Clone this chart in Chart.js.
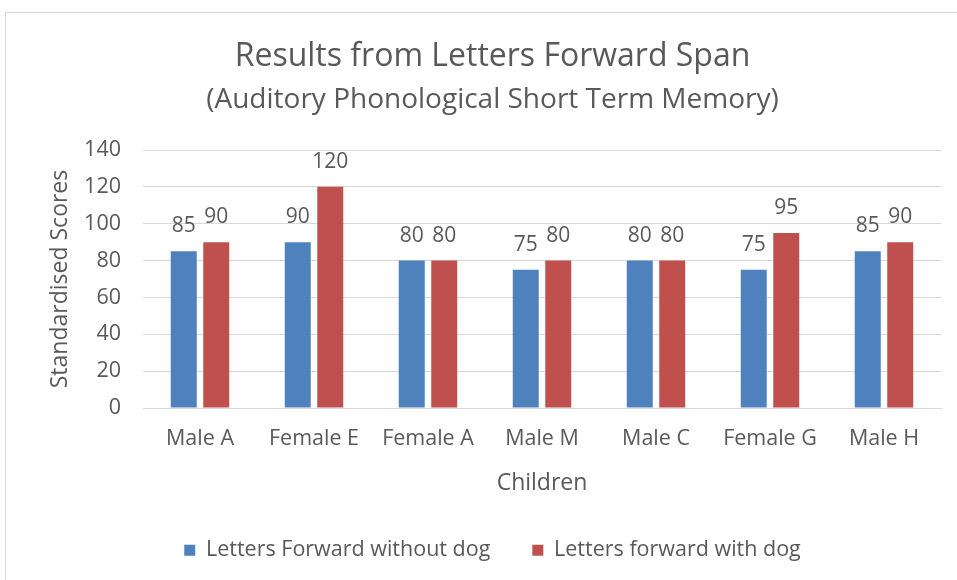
<!DOCTYPE html>
<html>
<head>
<meta charset="utf-8">
<script src="https://cdn.jsdelivr.net/npm/chart.js@4.4.1/dist/chart.umd.min.js"></script>
<style>
  html, body { margin: 0; padding: 0; background: #fff; }
  #wrap { width: 957px; height: 580px; position: relative; }
</style>
</head>
<body>
<div id="wrap"><canvas id="chart" width="957" height="580"></canvas></div>
<script>
// ── data ─────────────────────────────────────────────
const children = ["Male A", "Female E", "Female A", "Male M", "Male C", "Female G", "Male H"];
const withoutDog = [85, 90, 80, 75, 80, 75, 85];
const withDog    = [90, 120, 80, 80, 80, 95, 90];
const yTicks     = [0, 20, 40, 60, 80, 100, 120, 140];

const BLUE = "#4F81BD";
const RED  = "#C0504D";
const TEXT = "#595959";
const FONT = "'Open Sans', sans-serif";

// values drawn above each bar
const valueLabels = {
  id: "valueLabels",
  afterDatasetsDraw(chart) {
    const ctx = chart.ctx;
    ctx.save();
    ctx.font = "21px " + FONT;
    ctx.fillStyle = TEXT;
    ctx.textAlign = "center";
    ctx.textBaseline = "middle";
    chart.data.datasets.forEach((ds, i) => {
      chart.getDatasetMeta(i).data.forEach((bar, j) => {
        ctx.fillText(ds.data[j], bar.x, bar.y - 25);
      });
    });
    ctx.restore();
  }
};

// thin frame round the chart
const frame = {
  id: "frame",
  beforeDraw(chart) {
    const ctx = chart.ctx;
    ctx.save();
    ctx.fillStyle = "#fff";
    ctx.fillRect(0, 0, chart.width, chart.height);
    ctx.strokeStyle = "#d9d9d9";
    ctx.lineWidth = 1;
    ctx.strokeRect(5.5, 12.5, 1200, 1200);
    ctx.restore();
  }
};

new Chart(document.getElementById("chart"), {
  type: "bar",
  data: {
    labels: children,
    datasets: [
      { label: "Letters Forward without dog", data: withoutDog, backgroundColor: BLUE,
        categoryPercentage: 0.57, barPercentage: 0.8 },
      { label: "Letters forward with dog", data: withDog, backgroundColor: RED,
        categoryPercentage: 0.57, barPercentage: 0.8 }
    ]
  },
  options: {
    responsive: false,
    animation: false,
    layout: { padding: { left: 44, right: 16, top: 0, bottom: 9 } },
    plugins: {
      title: {
        display: true,
        text: "Results from Letters Forward Span",
        color: TEXT,
        font: { family: FONT, size: 32, weight: "normal" },
        padding: { top: 38, bottom: 0 }
      },
      subtitle: {
        display: true,
        text: "(Auditory Phonological Short Term Memory)",
        color: TEXT,
        font: { family: FONT, size: 28, weight: "normal" },
        padding: { top: 7, bottom: 33 }
      },
      legend: {
        position: "bottom",
        labels: {
          color: TEXT,
          font: { family: FONT, size: 21.5 },
          boxWidth: 11,
          boxHeight: 11,
          padding: 42
        }
      },
      tooltip: { enabled: false }
    },
    scales: {
      x: {
        grid: { display: false, drawTicks: false },
        border: { color: "#d9d9d9" },
        ticks: { color: TEXT, font: { family: FONT, size: 21.5 }, padding: 18 },
        title: {
          display: true, text: "Children", color: TEXT,
          font: { family: FONT, size: 23 }, padding: { top: 10, bottom: 0 }
        },
        afterFit: (axis) => { axis.height = 89.5; }
      },
      y: {
        min: 0,
        max: 140,
        afterBuildTicks: (axis) => { axis.ticks = yTicks.map((v) => ({ value: v })); },
        grid: { color: "#d9d9d9", drawTicks: false },
        border: { display: false },
        ticks: { color: TEXT, font: { family: FONT, size: 21.5 }, padding: 22 },
        title: {
          display: true, text: "Standardised Scores", color: TEXT,
          font: { family: FONT, size: 23 }, padding: { top: 3, bottom: 0 }
        },
        afterFit: (axis) => { axis.width = 99; }
      }
    }
  },
  plugins: [frame, valueLabels]
});
</script>
</body>
</html>
